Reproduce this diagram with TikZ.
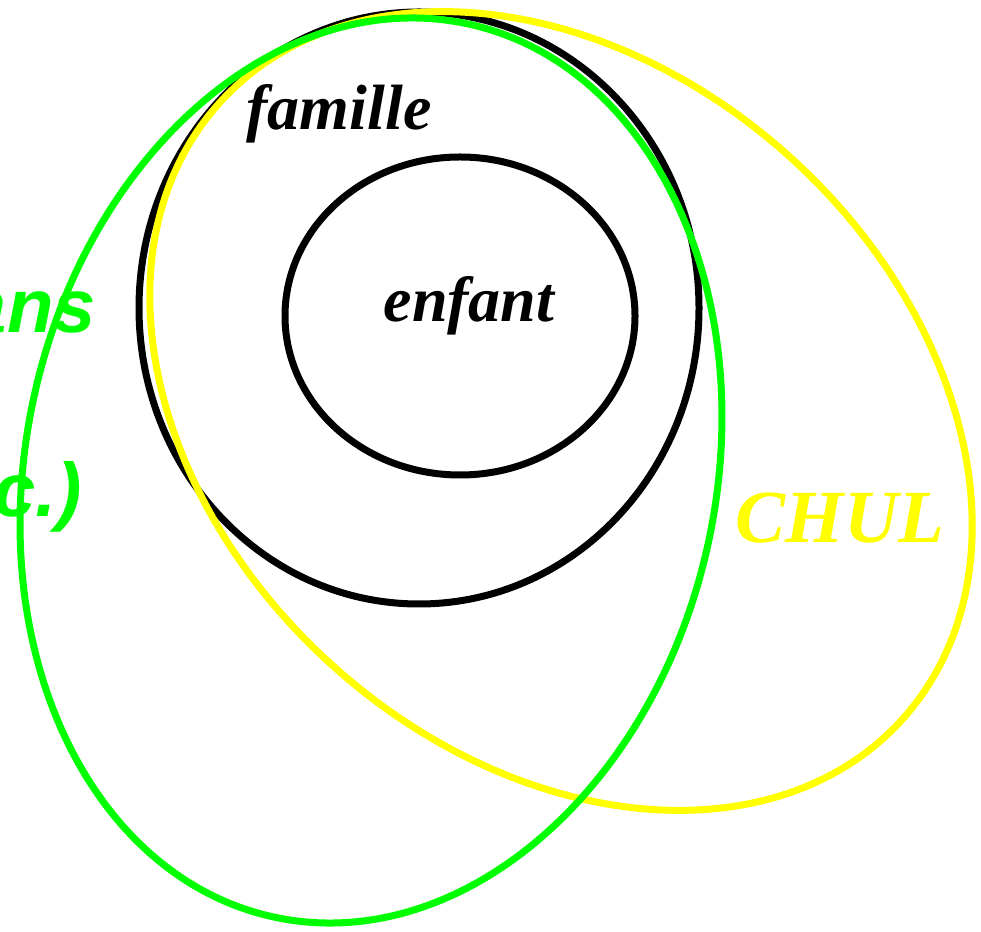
\documentclass[tikz,border=0pt]{standalone}
\usepackage{fontspec}
\setmainfont{Liberation Serif}
\newfontfamily\greenfont{Liberation Sans}
\definecolor{vgreen}{RGB}{0,255,0}
\definecolor{vyellow}{RGB}{255,255,0}
\begin{document}
\begin{tikzpicture}[x=1pt,y=1pt,
  ring/.style={line width=7pt},
  lbl/.style={inner sep=0pt,font=\fontsize{64}{64}\selectfont\bfseries\itshape},
  glbl/.style={inner sep=0pt,text=vgreen,font=\fontsize{76}{76}\selectfont\greenfont\bfseries\itshape}]
\clip (0,0) rectangle (981,931);
% black circles
\draw[ring,black] (419,623) ellipse [x radius=280, y radius=296];
\draw[ring,black] (460,615) ellipse [x radius=175, y radius=159];
% yellow ellipse (CHUL)
\draw[ring,vyellow] (561,520) ellipse [x radius=342, y radius=460, rotate=47.9];
% green ellipse
\draw[ring,vgreen] (371,460.5) ellipse [x radius=345, y radius=457, rotate=-12.35];
% labels
\node[lbl,anchor=base] (famille) at (339,801) {famille};
\node[lbl,anchor=base] (enfant) at (469,609) {enfant};
\node[lbl,text=vyellow,anchor=base,font=\fontsize{75}{75}\selectfont\bfseries\itshape] (chul) at (840,388) {CHUL};
\node[glbl,anchor=base east] (ans) at (96,598) {ans};
\node[glbl,anchor=base east] (etc) at (82,414) {c.)};
\end{tikzpicture}
\end{document}
